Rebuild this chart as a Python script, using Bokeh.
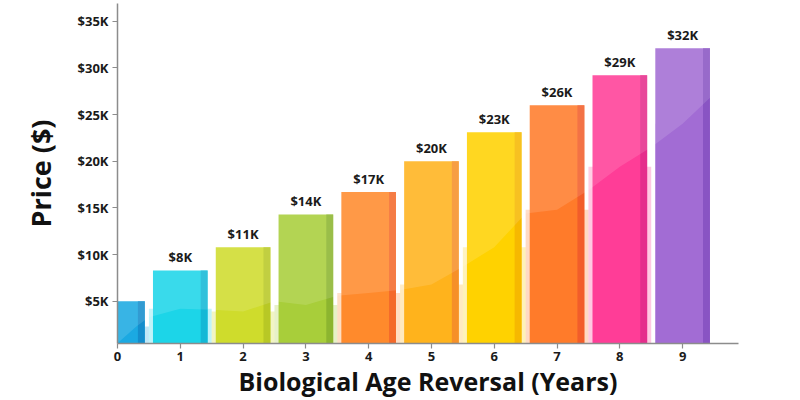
import numpy as np
from bokeh.plotting import figure
from bokeh.models import Range1d, FixedTicker, ColumnDataSource
from bokeh.embed import file_html
from bokeh.resources import INLINE
from bokeh.core.properties import value

years = [0, 1, 2, 3, 4, 5, 6, 7, 8, 9]
price_k = [5.0, 8.3, 10.8, 14.3, 16.7, 20.0, 23.1, 26.0, 29.2, 32.1]
bar_labels = ["", "$8K", "$11K", "$14K", "$17K", "$20K", "$23K", "$26K", "$29K", "$32K"]
bar_colors = ["#1BA9E2", "#1CD5E8", "#CFDC2C", "#A8CE3A", "#FF8A2C",
              "#FFB31C", "#FFD200", "#FF7B2A", "#FF3D97", "#A26CD4"]
strip_colors = ["#1388C8", "#12B3D2", "#B4C424", "#87B02E", "#F2632A",
                "#F5892A", "#F5B400", "#F0582A", "#E02A8A", "#8550C0"]
y_ticks = [5, 10, 15, 20, 25, 30, 35]
y_tick_labels = ["$5K", "$10K", "$15K", "$20K", "$25K", "$30K", "$35K"]

# decorative translucent wave across the bars
wave_x = [0, 0.3, 0.5, 1, 1.5, 2, 2.5, 3, 3.5, 4, 4.5, 5, 5.5, 6, 6.5, 7, 7.5, 8, 8.5, 9, 9.5, 9.89]
wave_y = [0.5, 2.3, 3.3, 4.2, 4.1, 3.9, 5.0, 4.6, 5.6, 5.9, 6.2, 6.8, 8.7, 10.8, 14.4, 14.8, 16.9, 19.4, 21.5, 24.0, 27.2, 29.5]
glow_top = [2.3, 4.2, 3.9, 4.6, 5.9, 6.8, 10.8, 14.8, 19.4, 24.0]
glow_width = [1.0, 1.0, 1.0, 1.0, 1.0, 1.0, 1.0, 1.0, 1.0, 0.87]

FONT = "Open Sans"
BAR_W = 0.87
STRIP_W = 0.11
Y0, Y1 = 0.48, 36.89

p = figure(width=792, height=400, x_range=Range1d(0, 9.89), y_range=Range1d(Y0, Y1),
           output_backend="svg", toolbar_location=None,
           min_border_left=117, min_border_right=54, min_border_top=3, min_border_bottom=56)
p.outline_line_color = None
p.xgrid.visible = False
p.ygrid.visible = False
p.background_fill_color = "white"

src = ColumnDataSource(dict(x=years, top=price_k, color=bar_colors, strip=strip_colors,
                            label=bar_labels, glow=glow_top, gw=glow_width,
                            strip_x=[v + BAR_W / 2 - STRIP_W / 2 for v in years],
                            label_y=[v + 0.45 for v in price_k]))

# soft glow under the wave between bars
p.vbar(x="x", top="glow", bottom=0, width="gw", fill_color="color", fill_alpha=0.28,
       line_color=None, source=src)
# main bars
p.vbar(x="x", top="top", bottom=0, width=BAR_W, fill_color="color", line_color=None, source=src)
# darker right strip
p.vbar(x="strip_x", top="top", bottom=0, width=STRIP_W, fill_color="strip", fill_alpha=0.85,
       line_color=None, source=src)
# light overlay above the wave
p.varea(x=wave_x, y1=wave_y, y2=[Y1] * len(wave_x), fill_color="white", fill_alpha=0.13)

p.text(x="x", y="label_y", text="label", source=src, text_align="center",
       text_baseline="bottom", text_font=value(FONT), text_font_style="bold",
       text_font_size="13px", text_color="#1a1a1a")

p.xaxis.ticker = FixedTicker(ticks=years)
p.yaxis.ticker = FixedTicker(ticks=y_ticks)
p.yaxis.major_label_overrides = {t: l for t, l in zip(y_ticks, y_tick_labels)}

for ax in (p.xaxis[0], p.yaxis[0]):
    ax.axis_line_color = "#8c8c8c"
    ax.axis_line_width = 1.5
    ax.major_tick_line_color = "#8c8c8c"
    ax.major_tick_line_width = 1.2
    ax.major_tick_out = 5
    ax.major_tick_in = 0
    ax.minor_tick_line_color = None
    ax.major_label_text_font = FONT
    ax.major_label_text_font_style = "bold"
    ax.major_label_text_font_size = "13px"
    ax.major_label_text_color = "#1a1a1a"
    ax.axis_label_text_font = FONT
    ax.axis_label_text_font_style = "bold"
    ax.axis_label_text_color = "#111111"

p.xaxis.axis_label = "Biological Age Reversal (Years)"
p.yaxis.axis_label = "Price ($)"
p.xaxis.axis_label_text_font_size = "25px"
p.yaxis.axis_label_text_font_size = "27px"
p.xaxis.major_label_standoff = 3
p.xaxis.axis_label_standoff = 0
p.yaxis.major_label_standoff = 4
p.yaxis.axis_label_standoff = 16

open("out.html", "w").write(file_html(p, INLINE))
